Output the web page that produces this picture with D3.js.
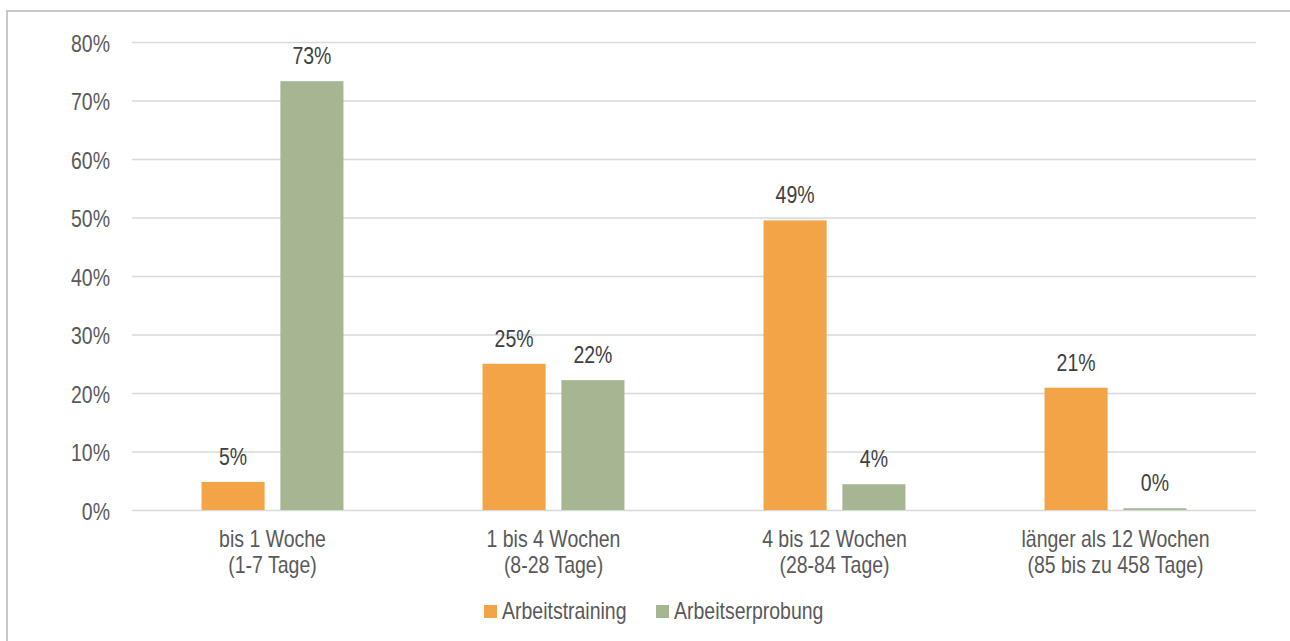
<!DOCTYPE html>
<html>
<head>
<meta charset="utf-8">
<script src="https://cdn.jsdelivr.net/npm/d3@7"></script>
<style>
html,body{margin:0;padding:0;background:#fff;}
svg{display:block;}
text{font-family:"Liberation Sans",Arial,sans-serif;}
</style>
</head>
<body>
<svg id="chart" width="1290" height="641"></svg>
<script>
const categories = [
  ["bis 1 Woche", "(1-7 Tage)"],
  ["1 bis 4 Wochen", "(8-28 Tage)"],
  ["4 bis 12 Wochen", "(28-84 Tage)"],
  ["länger als 12 Wochen", "(85 bis zu 458 Tage)"]
];
const seriesNames = ["Arbeitstraining", "Arbeitserprobung"];
const arbeitstraining = [4.8, 25.0, 49.5, 20.9];
const arbeitserprobung = [73.3, 22.2, 4.4, 0.3];
const labelsTraining = ["5%", "25%", "49%", "21%"];
const labelsErprobung = ["73%", "22%", "4%", "0%"];
const yTicks = [0, 10, 20, 30, 40, 50, 60, 70, 80];
const colors = ["#F2A446", "#A6B592"];

const svg = d3.select("#chart");
const W = 1290, H = 641;
const plot = {left: 132, right: 1256, top: 42, bottom: 510};
const textColor = "#595959";
const fs = 19.5, sy = 1.2;

// border
svg.append("rect").attr("x", 7).attr("y", 11).attr("width", 1400).attr("height", 800)
  .attr("fill", "none").attr("stroke", "#c9c9c9").attr("stroke-width", 2);

const y = d3.scaleLinear().domain([0, 80]).range([plot.bottom, plot.top]);
const x0 = d3.scaleBand().domain(d3.range(categories.length)).range([plot.left, plot.right]).padding(0);
const groupW = x0.bandwidth() * 0.505;
const x1 = d3.scaleBand().domain([0, 1]).range([(x0.bandwidth() - groupW) / 2, (x0.bandwidth() + groupW) / 2]).paddingInner(0.2);

function stretchedText(g, x, yy, str, anchor, color, size) {
  return g.append("text")
    .attr("transform", `translate(${x},${yy}) scale(1,${sy})`)
    .attr("text-anchor", anchor)
    .attr("fill", color)
    .attr("font-size", size || fs)
    .text(str);
}

// grid + y axis
const yAxis = d3.axisLeft(y).tickValues(yTicks).tickSize(-(plot.right - plot.left)).tickFormat(d => d + "%").tickPadding(22);
const ga = svg.append("g").attr("transform", `translate(${plot.left},0)`).call(yAxis);
ga.select(".domain").remove();
ga.selectAll(".tick line").attr("stroke", "#d9d9d9").attr("stroke-width", 1.5);
ga.selectAll(".tick text").remove();
ga.selectAll(".tick").each(function(d) {
  stretchedText(d3.select(this), -22, 9, d + "%", "end", textColor);
});

// bars
const data = categories.map((c, i) => ({i, vals: [arbeitstraining[i], arbeitserprobung[i]], labels: [labelsTraining[i], labelsErprobung[i]]}));
const groups = svg.append("g").selectAll("g").data(data).join("g")
  .attr("transform", d => `translate(${x0(d.i)},0)`);
groups.each(function(d) {
  const g = d3.select(this);
  d.vals.forEach((v, s) => {
    g.append("rect")
      .attr("x", x1(s)).attr("width", x1.bandwidth())
      .attr("y", y(v)).attr("height", y(0) - y(v))
      .attr("fill", colors[s]);
    stretchedText(g, x1(s) + x1.bandwidth() / 2, y(v) - 17, d.labels[s], "middle", "#404040");
  });
});

// category labels
categories.forEach((c, i) => {
  const cx = x0(i) + x0.bandwidth() / 2;
  stretchedText(svg, cx, 547, c[0], "middle", textColor);
  stretchedText(svg, cx, 573, c[1], "middle", textColor);
});

// legend
const legendX = [484, 656];
seriesNames.forEach((n, s) => {
  svg.append("rect").attr("x", legendX[s]).attr("y", 605).attr("width", 13).attr("height", 13).attr("fill", colors[s]);
  stretchedText(svg, legendX[s] + 18, 619, n, "start", textColor);
});
</script>
</body>
</html>
